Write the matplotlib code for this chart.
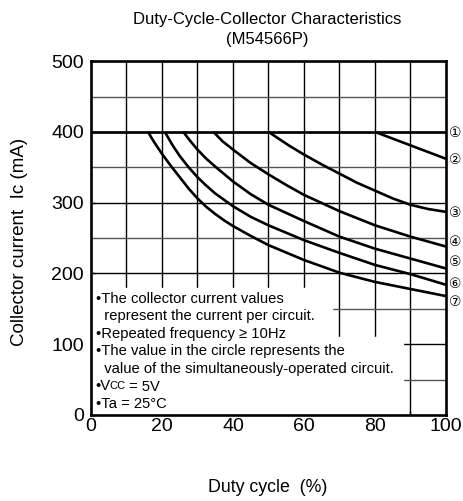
import matplotlib
matplotlib.use('Agg')
import matplotlib.pyplot as plt
import numpy as np

plt.rcParams['font.family'] = ['Liberation Sans', 'DejaVu Sans']

# curves (duty cycle %, collector current mA)
x1 = [0, 100]
y1 = [400, 400]
x2 = [80, 90, 100]
y2 = [400, 381, 362]
x3 = [50, 53, 56, 60, 65, 70, 75, 80, 85, 90, 95, 100]
y3 = [400, 390, 380, 368, 354, 341, 328, 317, 306, 297, 291, 287]
x4 = [34.5, 37, 40, 45, 50, 55, 60, 70, 80, 90, 100]
y4 = [400, 387, 375, 356, 340, 325, 311, 288, 268, 252, 238]
x5 = [26, 28, 30, 32.5, 35, 40, 45, 50, 60, 70, 80, 90, 100]
y5 = [400, 387, 375, 362, 351, 330, 312, 297, 274, 252, 235, 221, 207]
x6 = [20.8, 23, 25, 27.5, 30, 32.5, 35, 40, 45, 50, 60, 70, 80, 90, 100]
y6 = [400, 381, 366, 350, 336, 324, 313, 295, 280, 268, 247, 229, 212, 199, 184]
x7 = [16.1, 17, 18, 20, 22.5, 25, 27.5, 30, 32.5, 35, 37.5, 40, 45, 50, 60, 70, 80, 90, 100]
y7 = [400, 392, 384, 369, 352, 336, 320, 306, 294, 284, 275, 267, 253, 240, 219, 201, 188, 178, 168]
circled = ['①', '②', '③', '④', '⑤', '⑥', '⑦']
label_y = [399, 360, 286, 245, 216, 185, 160]

notes = ['•The collector current values',
         '  represent the current per circuit.',
         '•Repeated frequency ≥ 10Hz',
         '•The value in the circle represents the',
         '  value of the simultaneously-operated circuit.']

fig = plt.figure(figsize=(4.63, 5.01), dpi=100)
ax = fig.add_axes([0.1965, 0.1717, 0.7667, 0.7063])
ax.set_xlim(0, 100)
ax.set_ylim(0, 500)

# grid
for gx in range(10, 100, 10):
    ax.axvline(gx, color='black', lw=1.0, zorder=1)
for gy in range(50, 500, 50):
    c = 'black' if gy % 100 == 0 else '#555555'
    ax.axhline(gy, color=c, lw=1.0, zorder=1)

# white area behind the notes
ax.fill([0, 88, 88, 68, 68, 0], [0, 0, 110, 110, 179, 179],
        color='white', zorder=2)

for xs, ys in [(x1, y1), (x2, y2), (x3, y3), (x4, y4),
               (x5, y5), (x6, y6), (x7, y7)]:
    ax.plot(xs, ys, color='black', lw=1.9, zorder=3, solid_capstyle='butt')

for lab, ly in zip(circled, label_y):
    ax.text(100.9, ly, lab, fontsize=10, va='center', ha='left',
            family=['DejaVu Sans'], clip_on=False)

fs = 10.6
for i, line in enumerate(notes):
    ax.text(1.3, 164 - i * 24.7, line, fontsize=fs, va='center', ha='left', zorder=4)
t1 = ax.text(1.3, 40.5, '•V', fontsize=fs, va='center', ha='left', zorder=4)
t2 = ax.annotate('CC', xy=(1, 0.13), xycoords=t1, xytext=(-1.2, 0),
                 textcoords='offset points', fontsize=8, va='bottom', ha='left', zorder=4)
ax.annotate(' = 5V', xy=(1, 0), xycoords=t2, xytext=(0, -1.8), textcoords='offset points',
            fontsize=fs, va='bottom', ha='left', zorder=4)
ax.text(1.3, 16, '•Ta = 25°C', fontsize=fs, va='center', ha='left', zorder=4)

for s in ax.spines.values():
    s.set_linewidth(1.9)
    s.set_zorder(5)

ax.set_xticks(np.arange(0, 101, 20))
ax.set_xticks(np.arange(0, 101, 10), minor=True)
ax.set_yticks(np.arange(0, 501, 100))
ax.tick_params(direction='in', length=3, width=1, labelsize=14)
ax.tick_params(axis='x', pad=2)
ax.tick_params(axis='y', pad=5)
ax.tick_params(which='minor', direction='in', length=3, width=1)

ax.set_xlabel('Duty cycle  (%)', fontsize=12.8)
ax.set_ylabel('Collector current  Ic (mA)', fontsize=13.5)
ax.xaxis.set_label_coords(0.497, -0.181)
ax.yaxis.set_label_coords(-0.177, 0.49)

fig.text(0.578, 0.962, 'Duty-Cycle-Collector Characteristics', fontsize=12,
         ha='center', va='center')
fig.text(0.578, 0.922, '(M54566P)', fontsize=12, ha='center', va='center')

fig.savefig('out.png', dpi=100)
